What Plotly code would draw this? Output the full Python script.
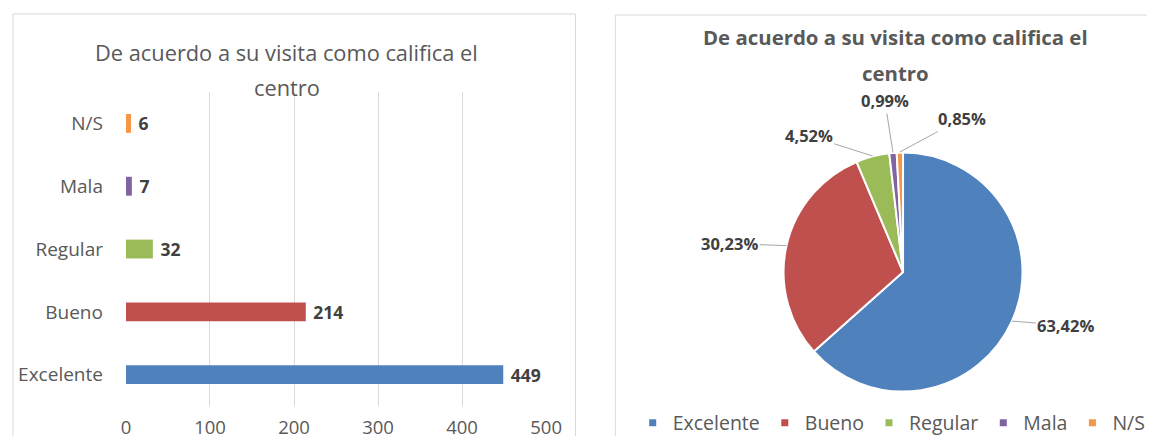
import math
import plotly.graph_objects as go

# Survey answers: "De acuerdo a su visita como califica el centro"
categories = ["Excelente", "Bueno", "Regular", "Mala", "N/S"]
counts = [449, 214, 32, 7, 6]
colors = ["#4f81bd", "#c0504d", "#9bbb59", "#8064a2", "#f79646"]
x_ticks = [0, 100, 200, 300, 400, 500]
title_lines = ["De acuerdo a su visita como califica el", "centro"]

W, H = 1164, 443
FONT = "Open Sans"
GRAY = "#595959"
DARK = "#404040"
FRAME = "#d9d9d9"

# the page is displayed slightly reduced; layout positions below are in
# displayed pixels and get converted to paper fractions here
S = 0.9863


def fx(px):
    return px / S / W


def fy(py):
    return 1 - py / S / H


fig = go.Figure()

# ---- left panel: horizontal bars ----
fig.add_trace(go.Bar(
    x=counts, y=categories, orientation="h",
    marker=dict(color=colors, line=dict(width=0)),
    width=0.3,
    text=counts, texttemplate=" <b>%{x}</b>", textposition="outside",
    constraintext="none", cliponaxis=False,
    textfont=dict(family=FONT, size=17.5, color=DARK),
    showlegend=False, hoverinfo="skip",
    xaxis="x", yaxis="y",
))

# ---- right panel: pie ----
PIE_CX, PIE_CY, PIE_R = 902, 272, 120
fig.add_trace(go.Pie(
    values=counts, labels=categories, sort=False,
    direction="clockwise", rotation=0,
    marker=dict(colors=colors, line=dict(color="white", width=2)),
    textinfo="none", showlegend=False, hoverinfo="skip",
    domain=dict(x=[fx(PIE_CX - PIE_R), fx(PIE_CX + PIE_R)],
                y=[fy(PIE_CY + PIE_R), fy(PIE_CY - PIE_R)]),
))

# legend entries with small square keys
for name, col in zip(categories, colors):
    fig.add_trace(go.Scatter(
        x=[None], y=[None], mode="markers", name=name,
        marker=dict(symbol="square", size=7, color=col),
        xaxis="x2", yaxis="y2", hoverinfo="skip",
    ))

annotations = []

# bar chart title (two lines)
for i, line in enumerate(title_lines):
    annotations.append(dict(
        text=line, x=fx(283), y=fy(52 + 35 * i), xref="paper", yref="paper",
        xanchor="center", yanchor="middle", showarrow=False,
        font=dict(family=FONT, size=21.8, color=GRAY),
    ))

# pie chart title (two lines, bold)
for i, line in enumerate(title_lines):
    annotations.append(dict(
        text="<b>%s</b>" % line, x=fx(894), y=fy(37 + 36 * i),
        xref="paper", yref="paper",
        xanchor="center", yanchor="middle", showarrow=False,
        font=dict(family=FONT, size=20.4, color=GRAY),
    ))

# percentage labels with leader lines from each slice's outer edge
total = sum(counts)
label_offsets = [(53, 4), (-56, -2), (-63, -20), (-8, -51), (61, -33)]
cum = 0
for val, (ax, ay) in zip(counts, label_offsets):
    mid = (cum + val / 2) / total * 2 * math.pi
    cum += val
    ex = PIE_CX + PIE_R * math.sin(mid)
    ey = PIE_CY - PIE_R * math.cos(mid)
    pct = ("%.2f" % (val / total * 100)).replace(".", ",") + "%"
    annotations.append(dict(
        text="<b>%s</b>" % pct, x=fx(ex), y=fy(ey), xref="paper", yref="paper",
        ax=ax / S, ay=ay / S, showarrow=True, arrowhead=0, arrowwidth=1,
        arrowcolor="#a6a6a6", standoff=0,
        font=dict(family=FONT, size=16.5, color=DARK),
    ))


def seg(x0, y0, x1, y1):
    return dict(type="line", xref="paper", yref="paper",
                x0=x0, y0=y0, x1=x1, y1=y1,
                line=dict(color=FRAME, width=1), layer="below")


# panel frames (open at the bottom / right edge of the page)
bottom = 1 / H
right = 1 - 1 / W
shapes = [
    seg(fx(8), fy(14), fx(573), fy(14)),
    seg(fx(8), fy(14), fx(8), bottom),
    seg(fx(573), fy(14), fx(573), bottom),
    seg(fx(613), fy(15), right, fy(15)),
    seg(fx(613), fy(15), fx(613), bottom),
]

fig.update_layout(
    width=W, height=H,
    margin=dict(l=0, r=0, t=0, b=0),
    paper_bgcolor="white", plot_bgcolor="white",
    font=dict(family=FONT, color=GRAY),
    xaxis=dict(
        domain=[fx(121.5), fx(543.5)], range=[0, 500],
        tickvals=x_ticks, showgrid=True, gridcolor=FRAME, gridwidth=1,
        zeroline=False, showline=False, ticks="",
        tickfont=dict(family=FONT, size=18.5, color=GRAY),
        ticklabelstandoff=8, fixedrange=True,
    ),
    yaxis=dict(
        domain=[fy(406), fy(92)],
        categoryorder="array", categoryarray=categories,
        showgrid=False, zeroline=False, showline=False, ticks="",
        tickfont=dict(family=FONT, size=19, color=GRAY),
        ticklabelstandoff=22, fixedrange=True,
    ),
    xaxis2=dict(domain=[0.99, 1.0], visible=False, anchor="y2"),
    yaxis2=dict(domain=[0.99, 1.0], visible=False, anchor="x2"),
    legend=dict(
        orientation="h", x=903 / W, y=fy(423), xanchor="center", yanchor="middle",
        font=dict(family=FONT, size=19.5, color=GRAY),
        bgcolor="rgba(0,0,0,0)", itemclick=False, itemdoubleclick=False,
    ),
    annotations=annotations,
    shapes=shapes,
)

fig.write_html("out.html")
